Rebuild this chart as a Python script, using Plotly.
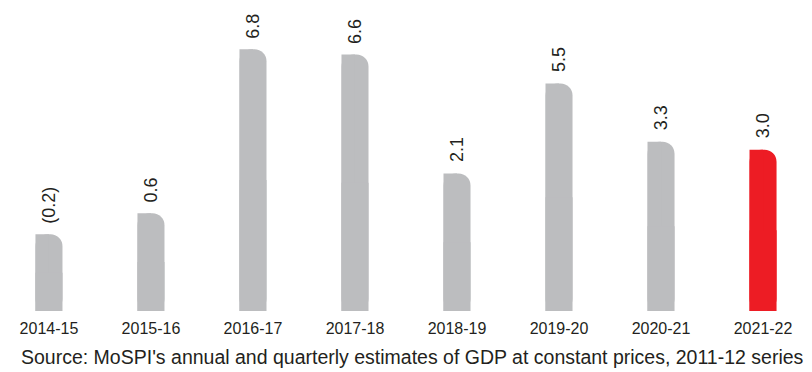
import plotly.graph_objects as go

# Real GDP growth by fiscal year (per cent)
years = ["2014-15", "2015-16", "2016-17", "2017-18", "2018-19", "2019-20", "2020-21", "2021-22"]
growth = [-0.2, 0.6, 6.8, 6.6, 2.1, 5.5, 3.3, 3.0]
highlight_year = "2021-22"
source_note = "Source: MoSPI's annual and quarterly estimates of GDP at constant prices, 2011-12 series"

GREY = "#bcbdbf"
RED = "#ed1c24"
TEXT = "#231f20"
FONT = "Liberation Sans, Arial, sans-serif"

axis_floor = -3.1   # bars rise from the bottom of the value axis
axis_top = 8.66
bar_w = 0.265

colors = [RED if y == highlight_year else GREY for y in years]
lengths = [v - axis_floor for v in growth]


def fmt(v):
    return f"({abs(v):.1f})" if v < 0 else f"{v:.1f}"


def bar_layer(length, width, offset, radius=None):
    marker = dict(color=colors, line=dict(width=0))
    if radius:
        marker["cornerradius"] = radius
    return go.Bar(
        x=years, y=length, base=axis_floor,
        width=width, offset=offset, marker=marker,
        hoverinfo="skip", showlegend=False,
    )


fig = go.Figure()
# full-width bar with rounded corners
fig.add_trace(bar_layer(lengths, bar_w, -bar_w / 2, radius=12))
# square left half: keeps the top-left corner sharp
fig.add_trace(bar_layer(lengths, bar_w / 2, -bar_w / 2))
# square lower half: keeps the foot of each bar flat
fig.add_trace(bar_layer([l / 2 for l in lengths], bar_w, -bar_w / 2))

for yr, v in zip(years, growth):
    fig.add_annotation(
        x=yr, y=v, xref="x", yref="y",
        text=fmt(v), textangle=-90, showarrow=False,
        xanchor="center", yanchor="bottom", yshift=9,
        font=dict(family=FONT, size=18, color=TEXT),
    )

fig.add_annotation(
    x=0, y=0, xref="paper", yref="paper",
    text=source_note, showarrow=False,
    xanchor="left", yanchor="middle", xshift=19, yshift=-46,
    font=dict(family=FONT, size=19.5, color=TEXT),
)

fig.update_layout(
    width=812, height=372,
    margin=dict(l=0, r=0, t=0, b=61),
    paper_bgcolor="white", plot_bgcolor="white",
    barmode="overlay",
    xaxis=dict(
        type="category", range=[-0.48, 7.48],
        showgrid=False, zeroline=False, showline=False, ticks="",
        ticklabelstandoff=6,
        tickfont=dict(family=FONT, size=16, color=TEXT),
    ),
    yaxis=dict(
        range=[axis_floor, axis_top], visible=False,
        showgrid=False, zeroline=False,
    ),
)

fig.write_html("out.html")
